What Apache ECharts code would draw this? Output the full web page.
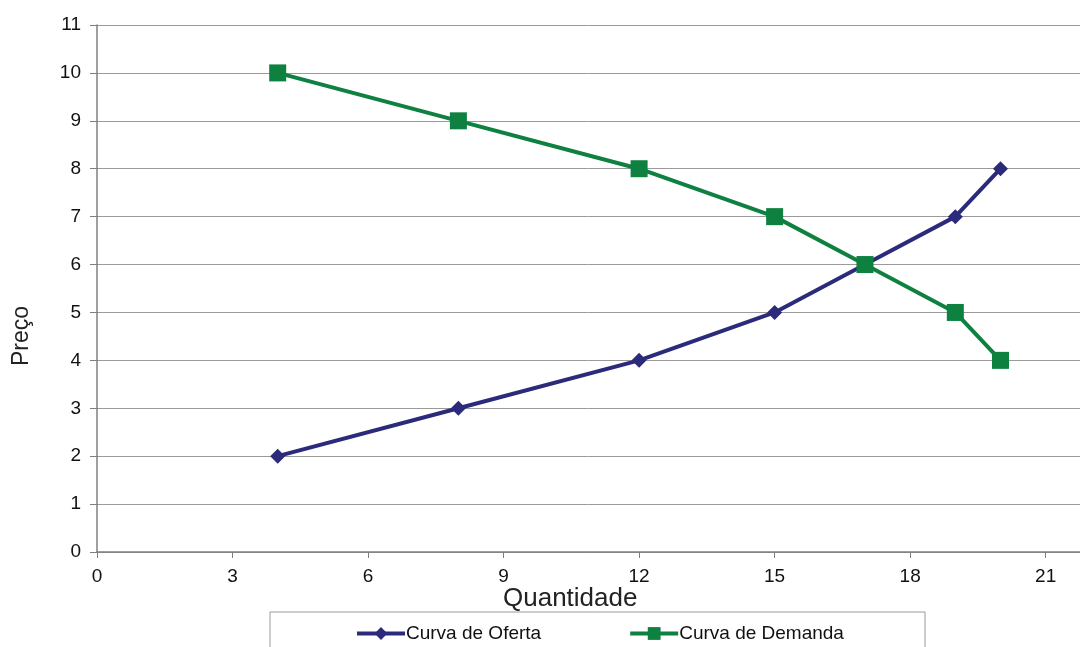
<!DOCTYPE html>
<html><head><meta charset="utf-8">
<script src="https://cdn.jsdelivr.net/npm/echarts@6/dist/echarts.min.js"></script>
<style>html,body{margin:0;padding:0;background:#fff}#c{width:1080px;height:647px}</style>
</head><body><div id="c"></div>
<script>
const quantidade = [4, 8, 12, 15, 17, 19, 20];
const oferta = [2, 3, 4, 5, 6, 7, 8];
const demanda = [10, 9, 8, 7, 6, 5, 4];
const xTicks = [0, 3, 6, 9, 12, 15, 18, 21];
const yTicks = [0,1,2,3,4,5,6,7,8,9,10,11];

const chart = echarts.init(document.getElementById('c'));
chart.setOption({
  animation: false,
  backgroundColor: '#fff',
  grid: {left: 97, top: 25, right: 0, bottom: 95, containLabel: false, outerBoundsMode: 'none'},
  xAxis: {
    type: 'value', min: 0, max: 21.76, interval: 3,
    axisLine: {show: true, lineStyle: {color: '#7f7f7f', width: 1.5}},
    axisTick: {show: true, length: 6, lineStyle: {color: '#7f7f7f'}},
    splitLine: {show: false},
    axisLabel: {color: '#111', fontSize: 19, fontFamily: 'Liberation Sans, Arial', margin: 15, showMaxLabel: false,
      formatter: v => xTicks.includes(v) ? String(v) : ''}
  },
  yAxis: {
    type: 'value', min: 0, max: 11, interval: 1,
    axisLine: {show: true, lineStyle: {color: '#7f7f7f', width: 1.5}},
    axisTick: {show: true, length: 7, lineStyle: {color: '#7f7f7f'}},
    splitLine: {show: true, lineStyle: {color: '#9a9a9a', width: 1}},
    axisLabel: {color: '#111', fontSize: 19, fontFamily: 'Liberation Sans, Arial', margin: 16,
      formatter: v => yTicks.includes(v) ? String(v) : ''}
  },
  legend: {
    left: 355, top: 624, padding: 0, itemWidth: 48, itemHeight: 16, itemGap: 87,
    lineStyle: {width: 4},
    textStyle: {color: '#111', fontSize: 19, fontFamily: 'Liberation Sans, Arial', padding: [0,0,0,-4]},
    data: ['Curva de Oferta', 'Curva de Demanda']
  },
  graphic: [
    {type: 'rect', shape: {x: 270, y: 612, width: 655, height: 60}, style: {fill: 'none', stroke: '#9a9a9a', lineWidth: 1}, z: -1},
    {type: 'text', left: 503, top: 586, style: {text: 'Quantidade', fill: '#222', fontSize: 26, fontFamily: 'Liberation Sans, Arial'}},
    {type: 'text', x: 22, y: 336, rotation: Math.PI / 2,
      style: {text: 'Preço', fill: '#222', fontSize: 23, fontFamily: 'Liberation Sans, Arial', align: 'center', verticalAlign: 'middle'}}
  ],
  series: [
    {name: 'Curva de Oferta', type: 'line', data: quantidade.map((q, i) => [q, oferta[i]]),
      symbol: 'diamond', symbolSize: 15, color: '#2b2a7b',
      lineStyle: {width: 4, color: '#2b2a7b'}, itemStyle: {color: '#2b2a7b'}, z: 2},
    {name: 'Curva de Demanda', type: 'line', data: quantidade.map((q, i) => [q, demanda[i]]),
      symbol: 'rect', symbolSize: 17, color: '#0e8040',
      lineStyle: {width: 4, color: '#0e8040'}, itemStyle: {color: '#0e8040'}, z: 3}
  ]
});
</script></body></html>
